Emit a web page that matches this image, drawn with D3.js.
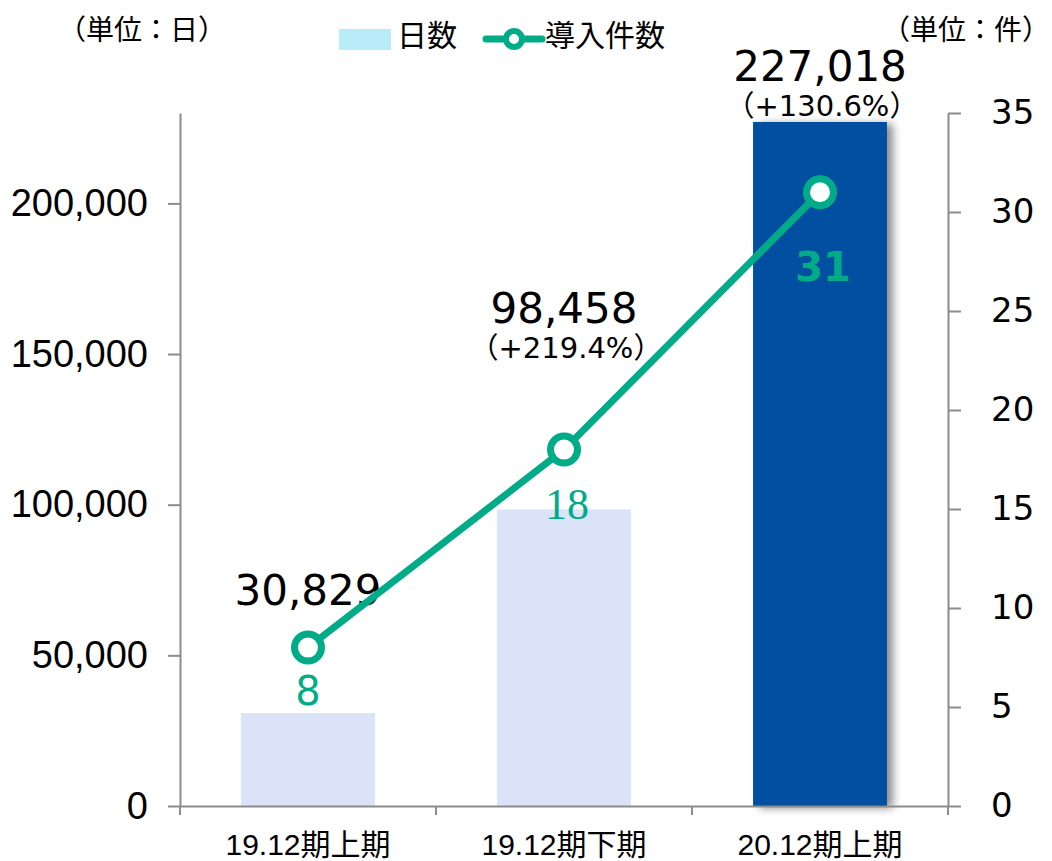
<!doctype html>
<html lang="ja">
<head>
<meta charset="UTF-8">
<title>日数・導入件数</title>
<style>
  body { margin: 0; background: #fff; }
  svg text { fill: #000; }
</style>
</head>
<body>
<svg id="chart" width="1052" height="861"></svg>
<script src="https://d3js.org/d3.v7.min.js"></script>
<script>
// data
const categories = ["19.12期上期", "19.12期下期", "20.12期上期"];
const days = [30829, 98458, 227018];
const dayGrowth = ["", "（+219.4%）", "（+130.6%）"];
const counts = [8, 18, 31];
const leftTicks = [0, 50000, 100000, 150000, 200000];
const rightTicks = [0, 5, 10, 15, 20, 25, 30, 35];

// layout
const plotLeft = 180, plotRight = 948, plotTop = 113, plotBottom = 806;
const green = "#00ac87";
const axisColor = "#8c8c8c";
const latin = "'DejaVu Sans', Verdana, sans-serif";
const arial = "'Liberation Sans', Arial, 'Noto Sans CJK JP', sans-serif";
const cjk = "'Noto Sans CJK JP', sans-serif";

const svg = d3.select("#chart");

const x = d3.scaleBand().domain(categories).range([plotLeft, plotRight])
    .paddingInner(0.477).paddingOuter(0.2385);
const xCat = d3.scaleBand().domain(categories).range([plotLeft, plotRight]);
const yL = d3.scaleLinear().domain([0, 230000]).range([plotBottom, plotTop]);
const yR = d3.scaleLinear().domain([0, 35]).range([plotBottom, plotTop]);

// shadow for the dark bar
const defs = svg.append("defs");
defs.append("filter").attr("id", "shadow")
    .attr("x", "-10%").attr("y", "-10%").attr("width", "130%").attr("height", "120%")
  .append("feDropShadow")
    .attr("dx", 6).attr("dy", 2).attr("stdDeviation", 4)
    .attr("flood-color", "#000").attr("flood-opacity", 0.45);

// bars
svg.append("g").selectAll("rect")
  .data(days)
  .enter().append("rect")
    .attr("x", (d, i) => x(categories[i]))
    .attr("y", d => yL(d))
    .attr("width", x.bandwidth())
    .attr("height", d => plotBottom - yL(d))
    .attr("fill", (d, i) => i === 2 ? "#0050a0" : "#dae3f8")
    .attr("filter", (d, i) => i === 2 ? "url(#shadow)" : null);

// left axis
const gL = svg.append("g")
    .attr("transform", `translate(${plotLeft},0)`)
    .call(d3.axisLeft(yL).tickValues(leftTicks).tickFormat(d3.format(","))
        .tickSize(12).tickSizeOuter(0).tickPadding(20));
gL.selectAll("text").attr("font-family", arial).attr("font-size", 38).style("fill", "#000");

// right axis
const gR = svg.append("g")
    .attr("transform", `translate(${plotRight},0)`)
    .call(d3.axisRight(yR).tickValues(rightTicks)
        .tickSize(13).tickSizeOuter(0).tickPadding(30));
gR.selectAll("text").attr("font-family", latin).attr("font-size", 34).style("fill", "#000");

// bottom axis
const gB = svg.append("g")
    .attr("transform", `translate(0,${plotBottom})`)
    .call(d3.axisBottom(xCat).tickValues([]).tickSizeOuter(0));
gB.selectAll(".sep")
  .data([plotLeft].concat(categories.map(c => xCat(c) + xCat.bandwidth())))
  .enter().append("line")
    .attr("class", "sep")
    .attr("x1", d => d).attr("x2", d => d)
    .attr("y1", 0).attr("y2", 9);
svg.append("g").selectAll("text")
  .data(categories)
  .enter().append("text")
    .attr("x", d => xCat(d) + xCat.bandwidth() / 2)
    .attr("y", 855)
    .attr("text-anchor", "middle")
    .attr("font-family", arial)
    .attr("font-size", 30)
    .text(d => d);

[gL, gR, gB].forEach(g => {
  g.selectAll("path, line").attr("stroke", axisColor).attr("stroke-width", 2);
});

// bar value labels
const valueOffset = [108, 186, 41];
const valueLabels = svg.append("g");
valueLabels.selectAll("text.val")
  .data(days)
  .enter().append("text")
    .attr("class", "val")
    .attr("x", (d, i) => x(categories[i]) + x.bandwidth() / 2)
    .attr("y", (d, i) => yL(d) - valueOffset[i])
    .attr("text-anchor", "middle")
    .attr("font-family", latin)
    .attr("font-size", 42)
    .text(d3.format(","));
valueLabels.selectAll("text.pct")
  .data(dayGrowth)
  .enter().append("text")
    .attr("class", "pct")
    .attr("x", (d, i) => x(categories[i]) + x.bandwidth() / 2 + 2)
    .attr("y", (d, i) => yL(days[i]) - valueOffset[i] + 35)
    .attr("text-anchor", "middle")
    .attr("font-family", latin + ", " + cjk)
    .attr("font-size", 29)
    .text(d => d);

// count line
const cx = (d, i) => xCat(categories[i]) + xCat.bandwidth() / 2;
svg.append("path")
    .datum(counts)
    .attr("d", d3.line().x(cx).y(d => yR(d)))
    .attr("fill", "none")
    .attr("stroke", green)
    .attr("stroke-width", 7);
svg.append("g").selectAll("circle")
  .data(counts)
  .enter().append("circle")
    .attr("cx", cx)
    .attr("cy", d => yR(d))
    .attr("r", 13.5)
    .attr("fill", "#fff")
    .attr("stroke", green)
    .attr("stroke-width", 7);

// count labels
const countOffset = [57, 69, 89];
const countFont = [latin, "'Liberation Serif', 'DejaVu Serif', serif", latin];
const countSize = [40, 44, 40];
const countWeight = ["normal", "normal", "bold"];
svg.append("g").selectAll("text")
  .data(counts)
  .enter().append("text")
    .attr("x", (d, i) => cx(d, i) + (i === 0 ? 0 : 3))
    .attr("y", (d, i) => yR(d) + countOffset[i])
    .attr("text-anchor", "middle")
    .attr("font-family", (d, i) => countFont[i])
    .attr("font-size", (d, i) => countSize[i])
    .attr("font-weight", (d, i) => countWeight[i])
    .style("fill", green)
    .text(d => d);

// unit labels
svg.append("text").attr("x", 58).attr("y", 40)
    .attr("font-family", cjk).attr("font-size", 28).text("（単位：日）");
svg.append("text").attr("x", 1050).attr("y", 40)
    .attr("text-anchor", "end")
    .attr("font-family", cjk).attr("font-size", 28).text("（単位：件）");

// legend
const lg = svg.append("g");
lg.append("rect").attr("x", 339).attr("y", 29).attr("width", 52).attr("height", 21)
    .attr("fill", "#b8ecf8");
lg.append("text").attr("x", 397).attr("y", 46)
    .attr("font-family", cjk).attr("font-size", 30).text("日数");
lg.append("line").attr("x1", 486).attr("x2", 542).attr("y1", 39).attr("y2", 39)
    .attr("stroke", green).attr("stroke-width", 7).attr("stroke-linecap", "round");
lg.append("circle").attr("cx", 514).attr("cy", 39).attr("r", 8)
    .attr("fill", "#fff").attr("stroke", green).attr("stroke-width", 6);
lg.append("text").attr("x", 545).attr("y", 46)
    .attr("font-family", cjk).attr("font-size", 30).text("導入件数");
</script>
</body>
</html>
